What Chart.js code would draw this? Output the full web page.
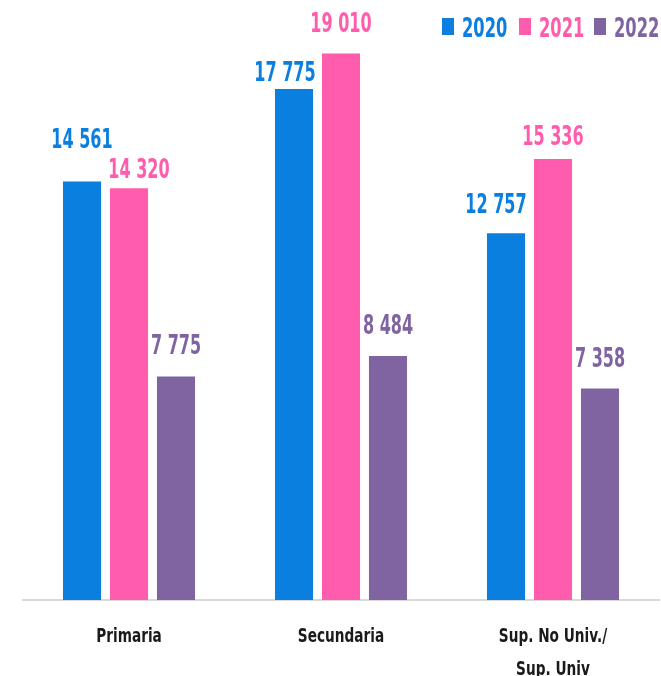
<!DOCTYPE html>
<html>
<head>
<meta charset="utf-8">
<script src="https://cdn.jsdelivr.net/npm/chart.js@4/dist/chart.umd.min.js"></script>
<style>
  html, body { margin: 0; padding: 0; background: #fff; overflow: hidden; }
  #wrap { position: relative; width: 661px; height: 676px; }
</style>
</head>
<body>
<div id="wrap"><canvas id="c" width="661" height="676"></canvas></div>
<script>
const categories = [["Primaria"], ["Secundaria"], ["Sup. No Univ./", "Sup. Univ"]];
const years = ["2020", "2021", "2022"];
const values2020 = [14561, 17775, 12757];
const values2021 = [14320, 19010, 15336];
const values2022 = [7775, 8484, 7358];
const colors = ["#0A7FE0", "#FF5CAD", "#8064A2"];

const FONT = "'DejaVu Sans Condensed', 'Liberation Sans Narrow', sans-serif";

function fmt(v) {
  return String(v).replace(/\B(?=(\d{3})+(?!\d))/g, " ");
}

// draw text horizontally condensed (real text, via fillText maxWidth)
function narrowText(ctx, text, x, y, squeeze) {
  const w = ctx.measureText(text).width;
  ctx.fillText(text, x, y, w * squeeze);
}

const textPlugin = {
  id: 'textPlugin',
  afterDatasetsDraw(chart, args, opts) {
    const ctx = chart.ctx;
    ctx.save();
    ctx.font = opts.valueFont;
    ctx.textAlign = 'center';
    ctx.textBaseline = 'alphabetic';
    chart.data.datasets.forEach((ds, di) => {
      const meta = chart.getDatasetMeta(di);
      meta.data.forEach((bar, i) => {
        const s = (opts.shift[di] && opts.shift[di][i]) || [0, 0];
        ctx.fillStyle = ds.backgroundColor;
        narrowText(ctx, fmt(ds.data[i]), bar.x + s[0], bar.y - opts.gap - s[1], opts.valueSqueeze);
      });
    });
    ctx.restore();
  },
  afterDraw(chart, args, opts) {
    const ctx = chart.ctx;
    const xs = chart.scales.x;
    ctx.save();
    // category labels
    ctx.font = opts.catFont;
    ctx.fillStyle = '#1a1a1a';
    ctx.textAlign = 'center';
    ctx.textBaseline = 'alphabetic';
    chart.data.labels.forEach((lab, i) => {
      const x = xs.getPixelForTick(i);
      const lines = Array.isArray(lab) ? lab : [lab];
      lines.forEach((ln, j) => {
        narrowText(ctx, ln, x, xs.bottom - opts.catFirstFromBottom + j * opts.catLineHeight, opts.catSqueeze);
      });
    });
    // legend
    ctx.font = opts.legendFont;
    ctx.textAlign = 'left';
    chart.data.datasets.forEach((ds, i) => {
      const lx = opts.legendX[i];
      ctx.fillStyle = ds.backgroundColor;
      ctx.fillRect(lx, opts.legendBoxTop, opts.legendBoxW, opts.legendBoxH);
      narrowText(ctx, ds.label, lx + opts.legendTextDx, opts.legendBaseline, opts.legendSqueeze);
    });
    ctx.restore();
  }
};

new Chart(document.getElementById('c'), {
  type: 'bar',
  data: {
    labels: categories,
    datasets: [
      { label: years[0], data: values2020, backgroundColor: colors[0] },
      { label: years[1], data: values2021, backgroundColor: colors[1] },
      { label: years[2], data: values2022, backgroundColor: colors[2] }
    ]
  },
  options: {
    responsive: false,
    animation: false,
    datasets: { bar: { categoryPercentage: 0.665, barPercentage: 0.81 } },
    layout: { padding: { left: 23, right: 2, top: 0, bottom: 0 } },
    scales: {
      x: {
        grid: { display: false, drawTicks: false },
        border: { display: true, color: '#d9d9d9', width: 2 },
        ticks: { display: false },
        afterFit(scale) { scale.height = 76; }
      },
      y: {
        display: false,
        min: 0,
        max: 20870
      }
    },
    plugins: {
      tooltip: { enabled: false },
      legend: { display: false },
      textPlugin: {
        valueFont: "bold 27px " + FONT,
        valueSqueeze: 0.66,
        gap: 20,
        shift: [
          [[0, 13], [-9, -12], [-10, 0]],
          [[10, -10], [0, 1], [0, -6]],
          [[0, 2], [0, 2], [0, 1]]
        ],
        catFont: "bold 19px " + FONT,
        catSqueeze: 0.8,
        catFirstFromBottom: 34,
        catLineHeight: 33,
        legendFont: "bold 27px " + FONT,
        legendSqueeze: 0.67,
        legendX: [442, 519, 594],
        legendBoxTop: 18,
        legendBoxW: 12,
        legendBoxH: 17,
        legendTextDx: 20,
        legendBaseline: 37
      }
    }
  },
  plugins: [textPlugin]
});
</script>
</body>
</html>
